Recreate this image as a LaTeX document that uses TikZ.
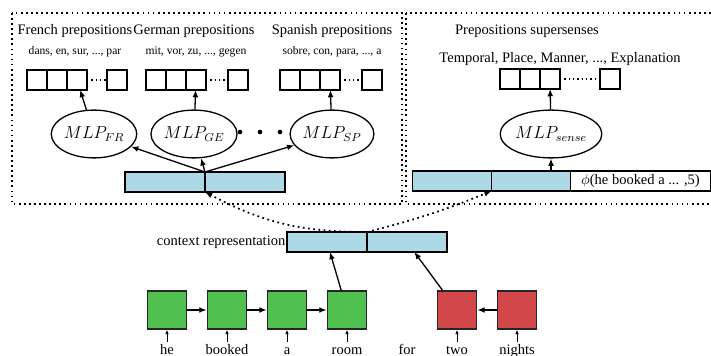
\documentclass[tikz,border=0pt]{standalone}
\usepackage{fontspec}
\setmainfont{Liberation Serif}
\usetikzlibrary{arrows.meta,shapes.geometric}
\definecolor{barblue}{RGB}{173,216,230}
\definecolor{boxgreen}{RGB}{80,192,80}
\definecolor{boxred}{RGB}{209,71,74}
\begin{document}
\begin{tikzpicture}[x=0.69pt,y=-0.69pt,
  cell/.style={draw, line width=1.3pt, minimum width=13.8pt, minimum height=13.8pt, inner sep=0pt, outer sep=0pt},
  mlp/.style={ellipse, draw, line width=0.9pt, minimum width=50pt, minimum height=33pt, inner sep=0pt, font=\fontsize{11.5}{13}\selectfont},
  bar/.style={draw, line width=1.3pt, fill=barblue, minimum width=55.2pt, minimum height=13.8pt, inner sep=0pt, outer sep=0pt},
  wbox/.style={draw, line width=1.3pt, fill=white, minimum width=96.6pt, minimum height=13.8pt, inner sep=0pt, outer sep=0pt},
  gbox/.style={draw=black!85, line width=1.2pt, fill=boxgreen, minimum width=27pt, minimum height=26pt, inner sep=0pt},
  rbox/.style={gbox, fill=boxred},
  arr/.style={-{Latex[length=5pt,width=4pt]}, line width=0.9pt},
  smallarr/.style={-{Latex[length=3pt,width=2.4pt]}, line width=0.6pt},
  dotarr/.style={-{Latex[length=5pt,width=4pt]}, line width=1.2pt, dash pattern=on 1.2pt off 2.4pt},
  panel/.style={line width=1.2pt, dash pattern=on 1.2pt off 2.3pt},
  gap/.style={line width=0.8pt, dash pattern=on 0.8pt off 2.2pt},
  title/.style={font=\fontsize{10}{12}\selectfont},
  sub/.style={font=\fontsize{8}{10}\selectfont},
  word/.style={font=\fontsize{10}{12}\selectfont, text height=1.6ex, text depth=0.3ex, inner sep=1pt}
]
\useasboundingbox (0,0) rectangle (711,356);
\clip (0,0) rectangle (711,356);

% panels
\draw[panel] (12,13) rectangle (402,204);
\draw[panel] (406,13) rectangle (725,204);

% titles
\node[title] (tfr) at (75,31) {French prepositions};
\node[title] (tge) at (194,31) {German prepositions};
\node[title] (tsp) at (332,31) {Spanish prepositions};
\node[title] (tss) at (527,31) {Prepositions supersenses};

\node[sub] (lfr) at (75,52) {dans, en, sur, ..., par};
\node[sub] (lge) at (196,52) {mit, vor, zu, ..., gegen};
\node[sub] (lsp) at (332,52) {sobre, con, para, ..., a};
\node[title] (lss) at (560,59) {Temporal, Place, Manner, ..., Explanation};

% cells
\foreach \n/\x/\y in {f1/37/80,f2/57/80,f3/77/80,f4/117/80,
                      g1/156/80,g2/176/80,g3/196/80,g4/238/80,
                      s1/290/80,s2/310/80,s3/330/80,s4/372/80,
                      c1/510/79,c2/530/79,c3/550/79,c4/610/79}
  \node[cell] (\n) at (\x,\y) {};
\draw[gap] (f3.east) -- (f4.west);
\draw[gap] (g3.east) -- (g4.west);
\draw[gap] (s3.east) -- (s4.west);
\draw[gap] (c3.east) -- (c4.west);

% MLPs
\node[mlp] (fr) at (94,134) {$MLP_{FR}$};
\node[mlp] (ge) at (194,134) {$MLP_{GE}$};
\node[mlp] (sp) at (332,134) {$MLP_{SP}$};
\node[mlp, minimum width=55pt] (sense) at (551,134) {$MLP_{sense}$};
\foreach \x in {240,260,280} \fill (\x,132) circle (1.6pt);

% left bar
\node[bar] (lbL) at (165,182) {};
\node[bar] (lbR) at (245,182) {};
% right bar
\node[bar, minimum width=54.5pt] (rbL) at (452,181) {};
\node[bar, minimum width=54.5pt] (rbR) at (531,181) {};
\node[wbox, anchor=west, font=\fontsize{10}{12}\selectfont] (phi) at (rbR.east) {$\phi$(he booked a ... ,5)\hspace{12pt}};

\draw[arr] (fr) -- (f3);
\draw[arr] (ge) -- (g3);
\draw[arr] (sp) -- (s3);
\draw[arr] (sense) -- (c3);
\draw[arr] (lbL.north east) -- (fr);
\draw[arr] (lbL.north east) -- (ge);
\draw[arr] (lbL.north east) -- (sp);
\draw[arr] (sense.south |- rbR.north) -- (sense.south);

% context representation
\node[bar] (ctxL) at (327,242) {};
\node[bar] (ctxR) at (407,242) {};
\node[title, anchor=east, inner sep=1pt] (ctxlab) at (ctxL.west) {context representation};

\draw[dotarr] (ctxL.north east) to[bend left=14] (lbL.south east);
\draw[dotarr] (ctxL.north east) to[bend right=4] (rbL.south east);

% words
\node[gbox] (w1) at (167,310) {};
\node[gbox] (w2) at (227,310) {};
\node[gbox] (w3) at (287,310) {};
\node[gbox] (w4) at (347,310) {};
\node[rbox] (w6) at (457,310) {};
\node[rbox] (w7) at (517,310) {};

\draw[arr] (w1) -- (w2);
\draw[arr] (w2) -- (w3);
\draw[arr] (w3) -- (w4);
\draw[arr] (w7) -- (w6);
\draw[arr] (w4) -- (ctxL);
\draw[arr] (w6) -- (ctxR);

\node[word] (he) at (167,350) {he};
\node[word] (booked) at (227,350) {booked};
\node[word] (a) at (287,350) {a};
\node[word] (room) at (347,350) {room};
\node[word] (for) at (407,350) {for};
\node[word] (two) at (457,350) {two};
\node[word] (nights) at (517,350) {nights};

\draw[smallarr] (he.north) -- (w1.south);
\draw[smallarr] (booked.north) -- (w2.south);
\draw[smallarr] (a.north) -- (w3.south);
\draw[smallarr] (room.north) -- (w4.south);
\draw[smallarr] (two.north) -- (w6.south);
\draw[smallarr] (nights.north) -- (w7.south);
\end{tikzpicture}
\end{document}
